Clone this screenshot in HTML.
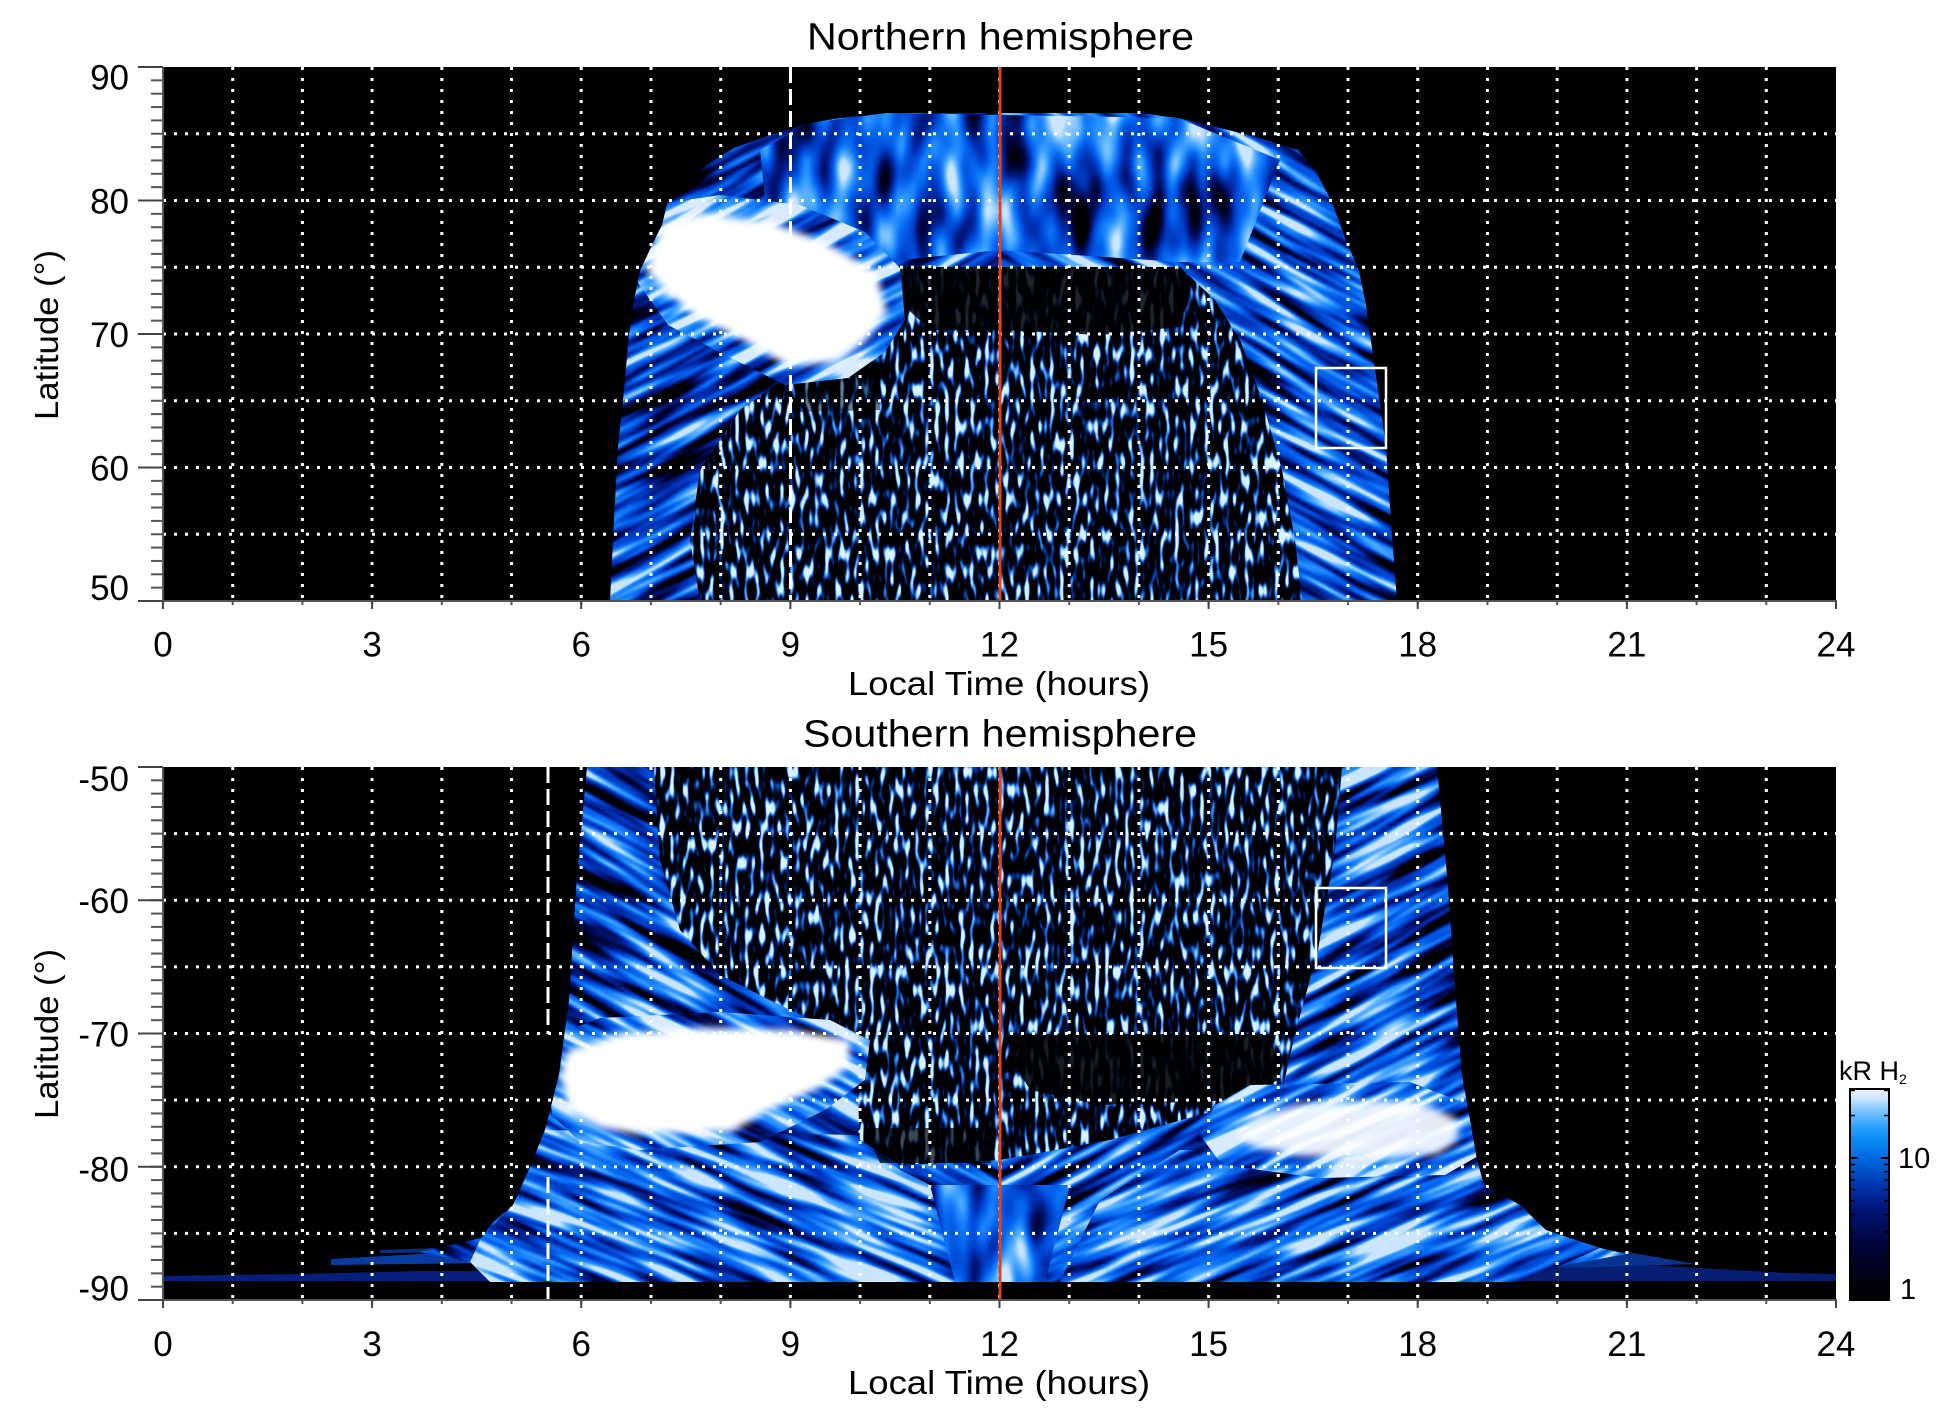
<!DOCTYPE html>
<html><head><meta charset="utf-8"><style>html,body{margin:0;padding:0;background:#fff;width:1950px;height:1423px;overflow:hidden}svg{display:block}</style></head>
<body>
<svg width="1950" height="1423" viewBox="0 0 1950 1423" xmlns="http://www.w3.org/2000/svg" font-family="'Liberation Sans', Arial, sans-serif">
<defs>
  <filter id="bandA" x="0" y="0" width="1" height="1" color-interpolation-filters="sRGB">
    <feTurbulence type="fractalNoise" baseFrequency="0.009 0.08" numOctaves="2" seed="3" stitchTiles="stitch"/>
    <feColorMatrix type="matrix" values="2.2 0 0 0 -0.68  2.2 0 0 0 -0.68  2.2 0 0 0 -0.68  0 0 0 0 1"/>
    <feComponentTransfer>
      <feFuncR type="table" tableValues="0 0 0 0 0 0.03 0.15 0.4 0.8"/>
      <feFuncG type="table" tableValues="0 0.02 0.08 0.18 0.3 0.42 0.56 0.72 0.9"/>
      <feFuncB type="table" tableValues="0 0.22 0.45 0.68 0.85 0.95 1 1 1"/>
    </feComponentTransfer>
  </filter>
  <filter id="bandB" x="0" y="0" width="1" height="1" color-interpolation-filters="sRGB">
    <feTurbulence type="fractalNoise" baseFrequency="0.009 0.08" numOctaves="2" seed="5" stitchTiles="stitch"/>
    <feColorMatrix type="matrix" values="2.2 0 0 0 -0.56  2.2 0 0 0 -0.56  2.2 0 0 0 -0.56  0 0 0 0 1"/>
    <feComponentTransfer>
      <feFuncR type="table" tableValues="0 0 0 0 0 0.03 0.15 0.4 0.8"/>
      <feFuncG type="table" tableValues="0 0.02 0.08 0.18 0.3 0.42 0.56 0.72 0.9"/>
      <feFuncB type="table" tableValues="0 0.22 0.45 0.68 0.85 0.95 1 1 1"/>
    </feComponentTransfer>
  </filter>
  <filter id="bandC" x="0" y="0" width="1" height="1" color-interpolation-filters="sRGB">
    <feTurbulence type="fractalNoise" baseFrequency="0.009 0.08" numOctaves="2" seed="21" stitchTiles="stitch"/>
    <feColorMatrix type="matrix" values="2.2 0 0 0 -0.64  2.2 0 0 0 -0.64  2.2 0 0 0 -0.64  0 0 0 0 1"/>
    <feComponentTransfer>
      <feFuncR type="table" tableValues="0 0 0 0 0 0.03 0.15 0.4 0.8"/>
      <feFuncG type="table" tableValues="0 0.02 0.08 0.18 0.3 0.42 0.56 0.72 0.9"/>
      <feFuncB type="table" tableValues="0 0.22 0.45 0.68 0.85 0.95 1 1 1"/>
    </feComponentTransfer>
  </filter>
  <filter id="bandD" x="0" y="0" width="1" height="1" color-interpolation-filters="sRGB">
    <feTurbulence type="fractalNoise" baseFrequency="0.009 0.08" numOctaves="2" seed="23" stitchTiles="stitch"/>
    <feColorMatrix type="matrix" values="2.2 0 0 0 -0.58  2.2 0 0 0 -0.58  2.2 0 0 0 -0.58  0 0 0 0 1"/>
    <feComponentTransfer>
      <feFuncR type="table" tableValues="0 0 0 0 0 0.03 0.15 0.4 0.8"/>
      <feFuncG type="table" tableValues="0 0.02 0.08 0.18 0.3 0.42 0.56 0.72 0.9"/>
      <feFuncB type="table" tableValues="0 0.22 0.45 0.68 0.85 0.95 1 1 1"/>
    </feComponentTransfer>
  </filter>
  <filter id="bandE" x="0" y="0" width="1" height="1" color-interpolation-filters="sRGB">
    <feTurbulence type="fractalNoise" baseFrequency="0.009 0.08" numOctaves="2" seed="25" stitchTiles="stitch"/>
    <feColorMatrix type="matrix" values="2.2 0 0 0 -0.48  2.2 0 0 0 -0.48  2.2 0 0 0 -0.48  0 0 0 0 1"/>
    <feComponentTransfer>
      <feFuncR type="table" tableValues="0 0 0 0 0 0.03 0.15 0.4 0.8"/>
      <feFuncG type="table" tableValues="0 0.02 0.08 0.18 0.3 0.42 0.56 0.72 0.9"/>
      <feFuncB type="table" tableValues="0 0.22 0.45 0.68 0.85 0.95 1 1 1"/>
    </feComponentTransfer>
  </filter>
  <filter id="light" x="0" y="0" width="1" height="1" color-interpolation-filters="sRGB">
    <feTurbulence type="fractalNoise" baseFrequency="0.009 0.08" numOctaves="2" seed="9" stitchTiles="stitch"/>
    <feColorMatrix type="matrix" values="2.2 0 0 0 -0.34  2.2 0 0 0 -0.34  2.2 0 0 0 -0.34  0 0 0 0 1"/>
    <feComponentTransfer>
      <feFuncR type="table" tableValues="0 0 0 0 0 0.03 0.15 0.4 0.85"/>
      <feFuncG type="table" tableValues="0 0.02 0.08 0.18 0.3 0.42 0.56 0.72 0.92"/>
      <feFuncB type="table" tableValues="0 0.22 0.45 0.68 0.85 0.95 1 1 1"/>
    </feComponentTransfer>
  </filter>
  <filter id="cap" x="0" y="0" width="1" height="1" color-interpolation-filters="sRGB">
    <feTurbulence type="fractalNoise" baseFrequency="0.03 0.012" numOctaves="2" seed="2"/>
    <feColorMatrix type="matrix" values="2 0 0 0 -0.45  2 0 0 0 -0.45  2 0 0 0 -0.45  0 0 0 0 1"/>
    <feComponentTransfer>
      <feFuncR type="table" tableValues="0 0 0 0 0 0.03 0.15 0.4 0.8"/>
      <feFuncG type="table" tableValues="0 0.02 0.08 0.18 0.3 0.42 0.56 0.72 0.9"/>
      <feFuncB type="table" tableValues="0 0.22 0.45 0.68 0.85 0.95 1 1 1"/>
    </feComponentTransfer>
  </filter>
  <filter id="speck" x="0" y="0" width="1" height="1" color-interpolation-filters="sRGB">
    <feTurbulence type="fractalNoise" baseFrequency="0.2 0.055" numOctaves="1" seed="13"/>
    <feColorMatrix type="matrix" values="3 0 0 0 -1.05  3 0 0 0 -1.05  3 0 0 0 -1.05  0 0 0 0 1"/>
    <feComponentTransfer>
      <feFuncR type="table" tableValues="0 0 0 0 0 0 0.12 0.45 0.85"/>
      <feFuncG type="table" tableValues="0 0 0 0 0.03 0.18 0.45 0.72 0.95"/>
      <feFuncB type="table" tableValues="0 0 0 0.03 0.15 0.5 0.85 1 1"/>
    </feComponentTransfer>
  </filter>
  <filter id="blur4" x="-10%" y="-10%" width="120%" height="120%"><feGaussianBlur stdDeviation="4"/></filter>

  <pattern id="pA" patternUnits="userSpaceOnUse" width="1000" height="1000" patternTransform="rotate(-28)"><rect width="1000" height="1000" filter="url(#bandA)"/></pattern>
  <pattern id="pB" patternUnits="userSpaceOnUse" width="1000" height="1000" patternTransform="rotate(28)"><rect width="1000" height="1000" filter="url(#bandB)"/></pattern>
  <pattern id="pC" patternUnits="userSpaceOnUse" width="1000" height="1000" patternTransform="rotate(28)"><rect width="1000" height="1000" filter="url(#bandC)"/></pattern>
  <pattern id="pD" patternUnits="userSpaceOnUse" width="1000" height="1000" patternTransform="rotate(-28)"><rect width="1000" height="1000" filter="url(#bandD)"/></pattern>
  <pattern id="pE1" patternUnits="userSpaceOnUse" width="1000" height="1000" patternTransform="rotate(22)"><rect width="1000" height="1000" filter="url(#bandE)"/></pattern>
  <pattern id="pE2" patternUnits="userSpaceOnUse" width="1000" height="1000" patternTransform="rotate(-22)"><rect width="1000" height="1000" filter="url(#bandE)"/></pattern>
  <pattern id="pL1" patternUnits="userSpaceOnUse" width="1000" height="1000" patternTransform="rotate(-28)"><rect width="1000" height="1000" filter="url(#light)"/></pattern>
  <pattern id="pL2" patternUnits="userSpaceOnUse" width="1000" height="1000" patternTransform="rotate(25)"><rect width="1000" height="1000" filter="url(#light)"/></pattern>
  <pattern id="pL3" patternUnits="userSpaceOnUse" width="1000" height="1000" patternTransform="rotate(-25)"><rect width="1000" height="1000" filter="url(#light)"/></pattern>

  <clipPath id="cTop"><rect x="163" y="67" width="1673" height="534"/></clipPath>
  <clipPath id="cBot"><rect x="163" y="767" width="1673" height="533"/></clipPath>
  <clipPath id="envN"><path d="M610,601 L614,520 L618,446 L624,390 L629,334 L634,300 L640,271 L652,245 L662,225 L668,200 L690,180 L706,165 L734,148 L770,135 L810,123 L840,118 L887,113 L1140,113 L1178,118 L1220,128 L1260,138 L1298,150 L1315,170 L1331,200 L1346,240 L1359,271 L1366,305 L1370,334 L1378,390 L1386,446 L1391,520 L1397,601 Z"/></clipPath>
  <clipPath id="capN"><path d="M780,262 L880,262 L1000,250 L1180,262 L1240,262 L1280,160 L1178,118 L887,113 L810,123 L760,150 L765,200 Z"/></clipPath>
  <clipPath id="speckN"><path d="M880,267 L1180,267 L1215,300 L1240,340 L1262,400 L1282,470 L1295,540 L1302,601 L700,601 L690,540 L700,470 L740,410 L800,368 L850,335 L870,300 Z"/></clipPath>

  <clipPath id="envS"><path d="M587,767 L1437,767 L1447,875 L1456,1000 L1462,1075 L1477,1160 L1484,1185 L1520,1205 L1546,1230 L1600,1248 L1627,1254 L1560,1266 L1520,1282 L490,1282 L470,1262 L420,1252 L481,1238 L492,1223 L513,1205 L530,1167 L545,1130 L559,1075 L569,1000 L577,875 Z"/></clipPath>
  <clipPath id="speckS"><path d="M654,767 L1342,767 L1335,850 L1318,950 L1295,1034 L1280,1100 L1210,1112 L1110,1140 L1000,1160 L900,1165 L860,1140 L855,1040 L790,1010 L720,975 L680,930 L660,860 Z"/></clipPath>
  <clipPath id="fanS"><path d="M930,1185 L1070,1185 L1045,1282 L955,1282 Z"/></clipPath>

  <linearGradient id="cbar" x1="0" y1="1" x2="0" y2="0">
    <stop offset="0" stop-color="#000000"/>
    <stop offset="0.11" stop-color="#000214"/>
    <stop offset="0.27" stop-color="#00053c"/>
    <stop offset="0.43" stop-color="#001478"/>
    <stop offset="0.55" stop-color="#0038b0"/>
    <stop offset="0.66" stop-color="#0064dc"/>
    <stop offset="0.76" stop-color="#0a8cf5"/>
    <stop offset="0.82" stop-color="#2aa0ff"/>
    <stop offset="0.9" stop-color="#80c6ff"/>
    <stop offset="0.95" stop-color="#c4e4ff"/>
    <stop offset="1" stop-color="#eef6ff"/>
  </linearGradient>

  <pattern id="tkY1" patternUnits="userSpaceOnUse" x="151" y="66" width="12" height="13.35"><rect width="12" height="2" fill="#555"/></pattern>
  <pattern id="tkY2" patternUnits="userSpaceOnUse" x="151" y="766" width="12" height="13.325"><rect width="12" height="2" fill="#555"/></pattern>
  <pattern id="tkX" patternUnits="userSpaceOnUse" x="162" y="0" width="69.708" height="10"><rect width="2" height="10" fill="#555"/></pattern>
</defs>

<rect width="1950" height="1423" fill="#fff"/>

<!-- ================= NORTHERN ================= -->
<g clip-path="url(#cTop)">
  <rect x="163" y="67" width="1673" height="534" fill="#000"/>
  <g clip-path="url(#envN)">
    <rect x="600" y="100" width="400" height="501" fill="url(#pA)"/>
    <rect x="1000" y="100" width="400" height="501" fill="url(#pB)"/>
    <g clip-path="url(#capN)"><rect x="740" y="100" width="560" height="175" filter="url(#cap)"/></g>
    <g clip-path="url(#speckN)"><rect x="680" y="260" width="640" height="341" filter="url(#speck)"/></g>
    <path d="M898,267 L1178,267 L1190,290 L1178,327 L1100,335 L1000,330 L930,330 L898,300 Z" fill="#000" opacity="0.85"/>
    <path d="M790,372 L880,372 L880,410 L800,412 Z" fill="#000" opacity="0.5"/>
    <path d="M652,205 L720,195 L800,205 L865,232 L900,268 L905,320 L885,352 L848,378 L785,385 L725,355 L668,325 L636,280 L642,232 Z" fill="url(#pL1)"/>
    <path d="M662,225 L700,213 L772,222 L830,245 L876,271 L887,313 L865,341 L838,362 L788,366 L745,341 L690,313 L646,271 Z" fill="#fff" filter="url(#blur4)"/>
  </g>
  <path d="M232.7 67V601M302.4 67V601M372.1 67V601M441.8 67V601M511.5 67V601M581.2 67V601M651 67V601M720.7 67V601M790.4 67V601M860.1 67V601M929.8 67V601M999.5 67V601M1069.2 67V601M1138.9 67V601M1208.6 67V601M1278.3 67V601M1348 67V601M1417.7 67V601M1487.5 67V601M1557.2 67V601M1626.9 67V601M1696.6 67V601M1766.3 67V601" stroke="#fff" stroke-width="3" stroke-dasharray="3 8" fill="none"/>
  <path d="M163 133.75H1836M163 200.5H1836M163 267.25H1836M163 334H1836M163 400.75H1836M163 467.5H1836M163 534.25H1836" stroke="#fff" stroke-width="3" stroke-dasharray="3 8" fill="none"/>
  <line x1="790.5" y1="67" x2="790.5" y2="601" stroke="#fff" stroke-width="3" stroke-dasharray="16 6"/>
  <rect x="1316" y="368" width="70" height="80" fill="none" stroke="#fff" stroke-width="2.5"/>
  <line x1="1000" y1="67" x2="1000" y2="601" stroke="#e0441a" stroke-width="3"/>
</g>
<line x1="163" y1="67" x2="163" y2="602" stroke="#555" stroke-width="2"/>
<line x1="162" y1="601" x2="1837" y2="601" stroke="#555" stroke-width="2"/>
<rect x="151" y="66" width="12" height="537" fill="url(#tkY1)"/>
<path d="M138 67H163M138 200.5H163M138 334H163M138 467.5H163M138 601H163" stroke="#444" stroke-width="2"/>
<rect x="162" y="601" width="1676" height="4" fill="url(#tkX)"/>
<path d="M163 601V609M372.1 601V609M581.2 601V609M790.4 601V609M999.5 601V609M1208.6 601V609M1417.7 601V609M1626.9 601V609M1836 601V609" stroke="#444" stroke-width="2"/>

<g font-size="35" fill="#000" text-anchor="end">
  <text x="129" y="89.5">90</text>
  <text x="129" y="213.5">80</text>
  <text x="129" y="347">70</text>
  <text x="129" y="480.5">60</text>
  <text x="129" y="600">50</text>
</g>
<g font-size="35" fill="#000" text-anchor="middle">
  <text x="163" y="656.5">0</text>
  <text x="372.1" y="656.5">3</text>
  <text x="581.2" y="656.5">6</text>
  <text x="790.4" y="656.5">9</text>
  <text x="999.5" y="656.5">12</text>
  <text x="1208.6" y="656.5">15</text>
  <text x="1417.7" y="656.5">18</text>
  <text x="1626.9" y="656.5">21</text>
  <text x="1836" y="656.5">24</text>
</g>
<text x="807" y="49.3" font-size="38" textLength="387" lengthAdjust="spacingAndGlyphs">Northern hemisphere</text>
<text x="848" y="695" font-size="33" textLength="302" lengthAdjust="spacingAndGlyphs">Local Time (hours)</text>
<text transform="translate(58 420) rotate(-90)" font-size="33" textLength="170" lengthAdjust="spacingAndGlyphs">Latitude (°)</text>

<!-- ================= SOUTHERN ================= -->
<g clip-path="url(#cBot)">
  <rect x="163" y="767" width="1673" height="533" fill="#000"/>
  <path d="M163,1276 L300,1274 L420,1271 L500,1271 L500,1281 L163,1281 Z" fill="#08279a" opacity="0.8"/>
  <path d="M331,1259 L420,1254 L490,1253 L490,1263 L331,1265 Z" fill="#0a47c0" opacity="0.85"/>
  <path d="M380,1250 L490,1246 L490,1252 L380,1253 Z" fill="#0a3aa8" opacity="0.8"/>
  <path d="M1500,1272 L1627,1264 L1700,1268 L1787,1273 L1836,1274 L1836,1281 L1500,1281 Z" fill="#08258f" opacity="0.8"/>
  <path d="M1520,1262 L1627,1252 L1696,1264 L1560,1268 Z" fill="#0a3aa8" opacity="0.85"/>
  <g clip-path="url(#envS)">
    <rect x="410" y="767" width="590" height="520" fill="url(#pC)"/>
    <rect x="1000" y="767" width="640" height="520" fill="url(#pD)"/>
    <path d="M540,1130 L860,1135 L900,1170 L960,1200 L990,1282 L490,1282 L470,1262 L481,1238 L513,1205 L530,1167 Z" fill="url(#pE1)"/>
    <path d="M1180,1150 L1480,1150 L1520,1205 L1546,1230 L1600,1248 L1560,1266 L1520,1282 L1060,1282 L1100,1200 Z" fill="url(#pE2)"/>
    <g clip-path="url(#speckS)"><rect x="640" y="767" width="720" height="410" filter="url(#speck)"/></g>
    <path d="M1012,1034 L1272,1034 L1278,1080 L1240,1100 L1100,1105 L1030,1090 L1012,1060 Z" fill="#000" opacity="0.88"/>
    <path d="M865,1128 L991,1128 L991,1163 L880,1163 Z" fill="#000" opacity="0.7"/>
    <g clip-path="url(#fanS)"><rect x="920" y="1180" width="160" height="110" filter="url(#cap)"/></g>
    <path d="M600,1018 L720,1012 L830,1020 L870,1040 L865,1080 L825,1110 L760,1142 L640,1150 L580,1142 L552,1115 L548,1070 L556,1035 Z" fill="url(#pL2)"/>
    <path d="M1250,1085 L1410,1082 L1470,1105 L1480,1155 L1445,1175 L1320,1178 L1222,1165 L1200,1135 L1215,1105 Z" fill="url(#pL3)"/>
    <path d="M620,1034 L700,1028 L790,1030 L851,1040 L848,1068 L815,1090 L767,1111 L731,1132 L640,1134 L600,1128 L570,1111 L560,1076 L568,1050 Z" fill="#fff" filter="url(#blur4)"/>
    <path d="M1300,1104 L1380,1100 L1430,1106 L1458,1120 L1458,1140 L1438,1154 L1380,1158 L1300,1156 L1250,1146 L1236,1132 L1258,1116 Z" fill="#fff" opacity="0.9" filter="url(#blur4)"/>
  </g>
  <path d="M232.7 767V1300M302.4 767V1300M372.1 767V1300M441.8 767V1300M511.5 767V1300M581.2 767V1300M651 767V1300M720.7 767V1300M790.4 767V1300M860.1 767V1300M929.8 767V1300M999.5 767V1300M1069.2 767V1300M1138.9 767V1300M1208.6 767V1300M1278.3 767V1300M1348 767V1300M1417.7 767V1300M1487.5 767V1300M1557.2 767V1300M1626.9 767V1300M1696.6 767V1300M1766.3 767V1300" stroke="#fff" stroke-width="3" stroke-dasharray="3 8" fill="none"/>
  <path d="M163 833.6H1836M163 900.25H1836M163 966.9H1836M163 1033.5H1836M163 1100.1H1836M163 1166.75H1836M163 1233.4H1836" stroke="#fff" stroke-width="3" stroke-dasharray="3 8" fill="none"/>
  <line x1="548" y1="767" x2="548" y2="1034" stroke="#fff" stroke-width="3" stroke-dasharray="16 6"/>
  <line x1="548" y1="1177" x2="548" y2="1300" stroke="#fff" stroke-width="3" stroke-dasharray="16 6"/>
  <rect x="1316" y="888" width="70" height="80" fill="none" stroke="#fff" stroke-width="2.5"/>
  <line x1="1000" y1="767" x2="1000" y2="1300" stroke="#e0441a" stroke-width="3"/>
</g>
<line x1="163" y1="767" x2="163" y2="1301" stroke="#555" stroke-width="2"/>
<line x1="162" y1="1300" x2="1837" y2="1300" stroke="#555" stroke-width="2"/>
<rect x="151" y="766" width="12" height="536" fill="url(#tkY2)"/>
<path d="M138 767H163M138 900.25H163M138 1033.5H163M138 1166.75H163M138 1300H163" stroke="#444" stroke-width="2"/>
<rect x="162" y="1300" width="1676" height="4" fill="url(#tkX)"/>
<path d="M163 1300V1308M372.1 1300V1308M581.2 1300V1308M790.4 1300V1308M999.5 1300V1308M1208.6 1300V1308M1417.7 1300V1308M1626.9 1300V1308M1836 1300V1308" stroke="#444" stroke-width="2"/>

<g font-size="35" fill="#000" text-anchor="end">
  <text x="129" y="791">-50</text>
  <text x="129" y="913">-60</text>
  <text x="129" y="1046.5">-70</text>
  <text x="129" y="1181.5">-80</text>
  <text x="129" y="1300.5">-90</text>
</g>
<g font-size="35" fill="#000" text-anchor="middle">
  <text x="163" y="1356">0</text>
  <text x="372.1" y="1356">3</text>
  <text x="581.2" y="1356">6</text>
  <text x="790.4" y="1356">9</text>
  <text x="999.5" y="1356">12</text>
  <text x="1208.6" y="1356">15</text>
  <text x="1417.7" y="1356">18</text>
  <text x="1626.9" y="1356">21</text>
  <text x="1836" y="1356">24</text>
</g>
<text x="803" y="746.7" font-size="38" textLength="394" lengthAdjust="spacingAndGlyphs">Southern hemisphere</text>
<text x="848" y="1394" font-size="33" textLength="302" lengthAdjust="spacingAndGlyphs">Local Time (hours)</text>
<text transform="translate(58 1119) rotate(-90)" font-size="33" textLength="170" lengthAdjust="spacingAndGlyphs">Latitude (°)</text>

<!-- ================= COLORBAR ================= -->
<rect x="1850" y="1089" width="39" height="211" fill="url(#cbar)" stroke="#000" stroke-width="2"/>
<path d="M1851 1158H1858M1888 1158H1881" stroke="#000" stroke-width="2"/>
<path d="M1851 1257H1855M1851 1232H1855M1851 1214.5H1855M1851 1200.7H1855M1851 1189.5H1855M1851 1180H1855M1851 1171.8H1855M1851 1164.5H1855M1851 1115.5H1855M1851 1090.5H1855M1888 1257H1884M1888 1232H1884M1888 1214.5H1884M1888 1200.7H1884M1888 1189.5H1884M1888 1180H1884M1888 1171.8H1884M1888 1164.5H1884M1888 1115.5H1884M1888 1090.5H1884" stroke="#000" stroke-width="1.5"/>
<text x="1839" y="1080" font-size="27">kR H<tspan font-size="14" dy="4">2</tspan></text>
<text x="1898" y="1168" font-size="29">10</text>
<text x="1900" y="1299" font-size="29">1</text>
</svg>
</body></html>
